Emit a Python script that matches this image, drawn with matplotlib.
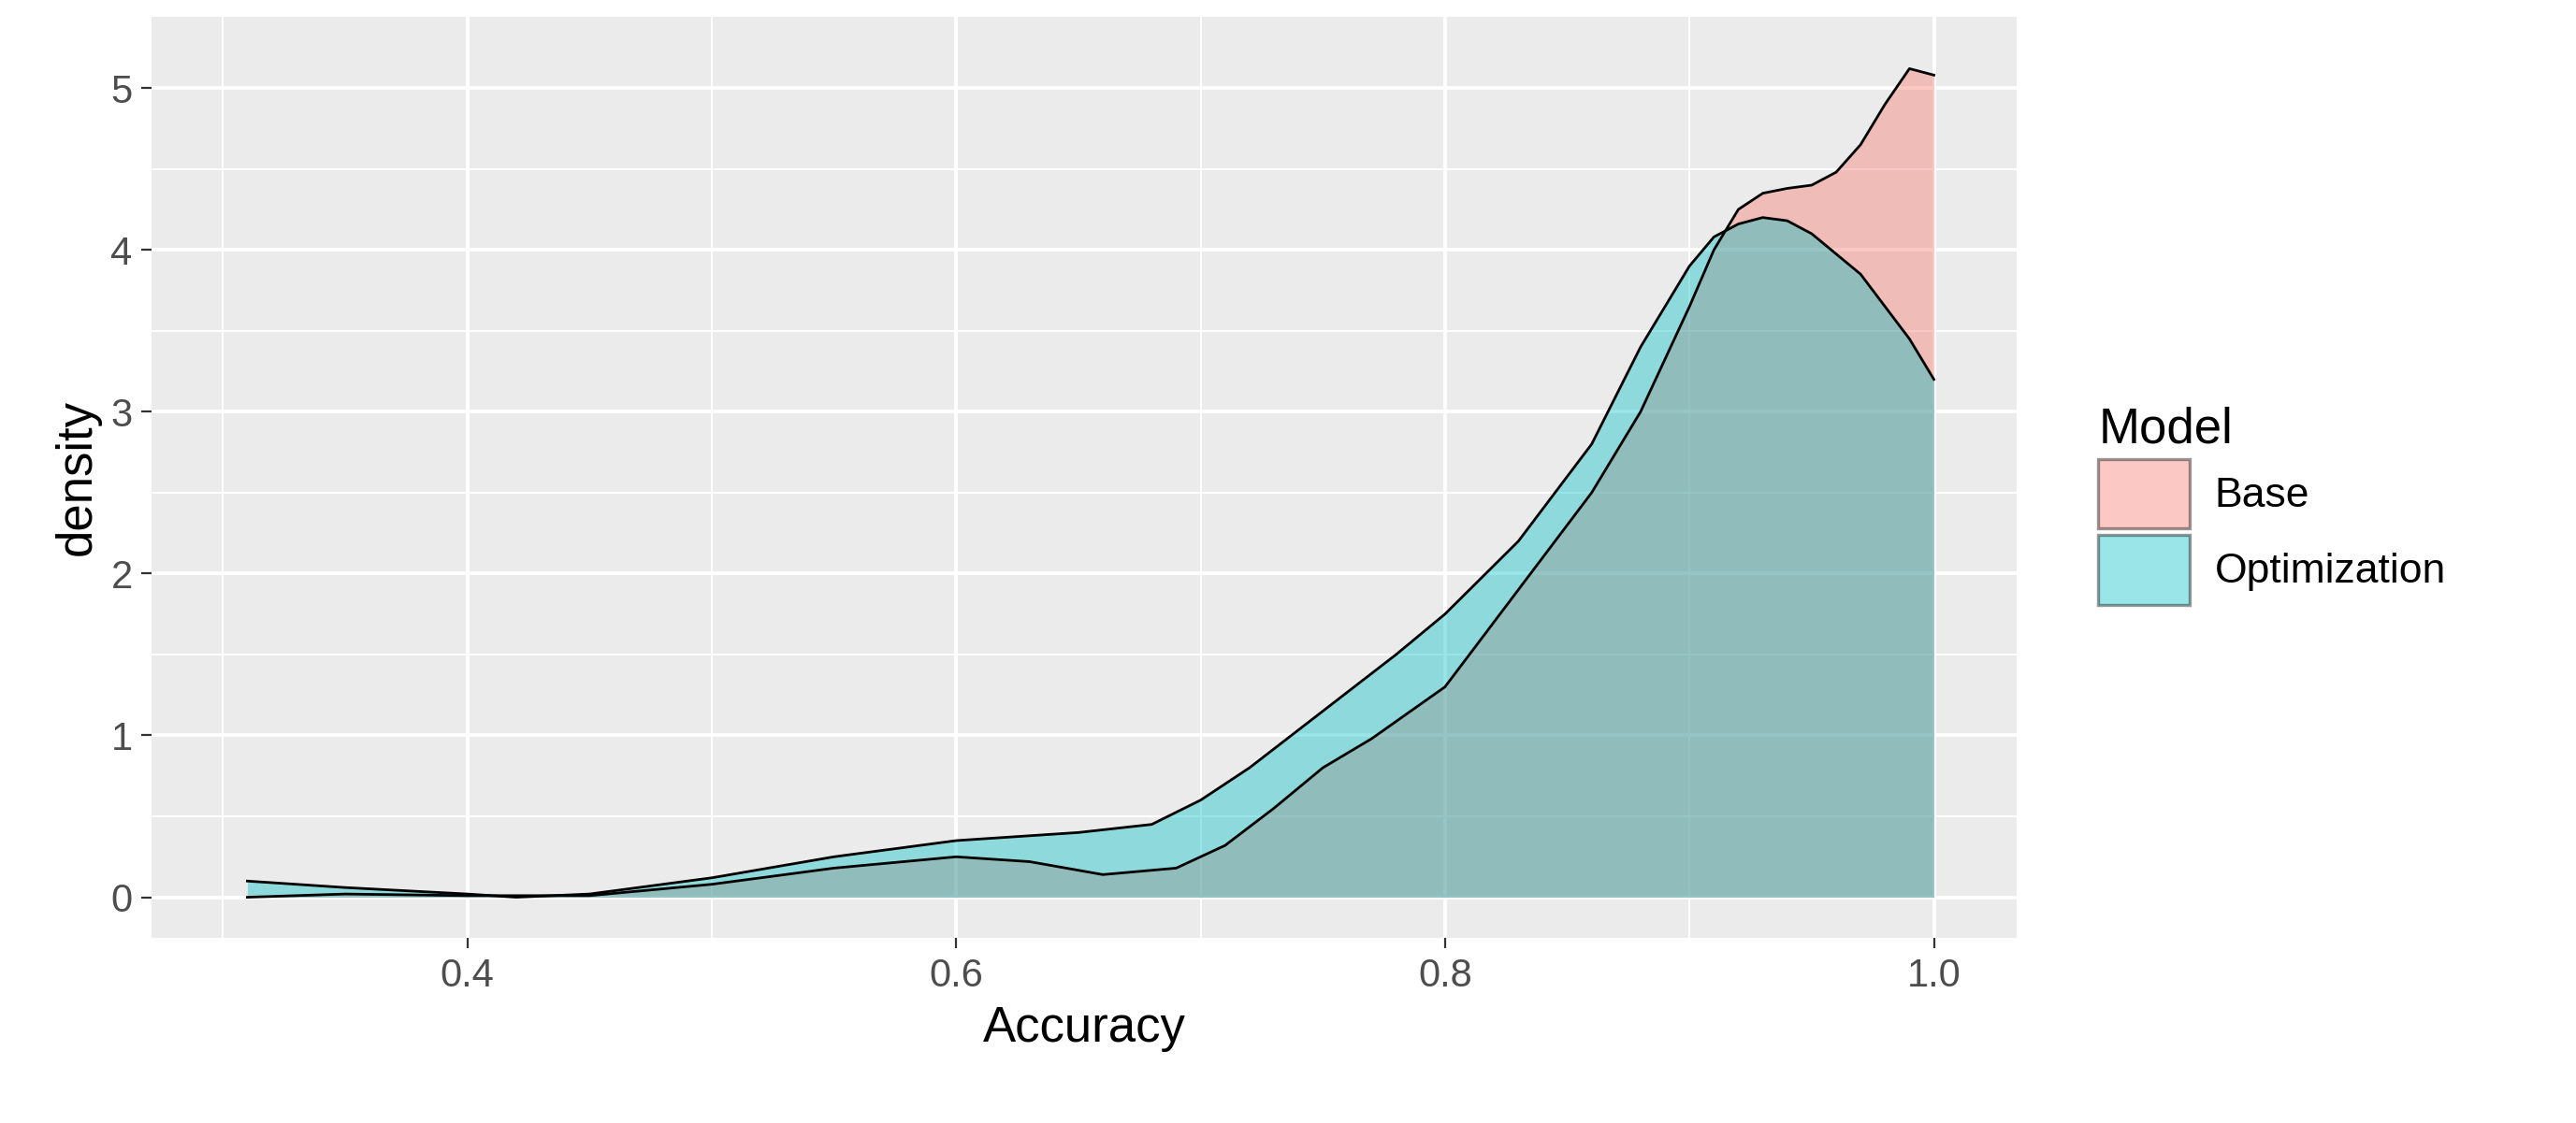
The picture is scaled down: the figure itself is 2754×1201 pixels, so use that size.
import matplotlib
matplotlib.use("Agg")
import matplotlib.pyplot as plt

plt.rcParams["font.family"] = ["Liberation Sans", "DejaVu Sans"]

# density curves
base_x = [0.31, 0.35, 0.40, 0.45, 0.50, 0.55, 0.60, 0.63, 0.66, 0.69, 0.71, 0.73, 0.75, 0.77,
          0.80, 0.83, 0.86, 0.88, 0.90, 0.91, 0.92, 0.93, 0.94, 0.95, 0.96, 0.97, 0.98, 0.99, 1.00]
base_y = [0.00, 0.02, 0.01, 0.01, 0.08, 0.18, 0.25, 0.22, 0.14, 0.18, 0.32, 0.55, 0.80, 0.98,
          1.30, 1.90, 2.50, 3.00, 3.65, 4.00, 4.25, 4.35, 4.38, 4.40, 4.48, 4.65, 4.90, 5.12, 5.08]
opt_x = [0.31, 0.35, 0.40, 0.42, 0.45, 0.50, 0.55, 0.60, 0.65, 0.68, 0.70, 0.72, 0.75, 0.78,
         0.80, 0.83, 0.86, 0.88, 0.90, 0.91, 0.92, 0.93, 0.94, 0.95, 0.97, 0.99, 1.00]
opt_y = [0.10, 0.06, 0.02, 0.00, 0.02, 0.12, 0.25, 0.35, 0.40, 0.45, 0.60, 0.80, 1.15, 1.50,
         1.75, 2.20, 2.80, 3.40, 3.90, 4.08, 4.16, 4.20, 4.18, 4.10, 3.85, 3.45, 3.20]
models = ["Base", "Optimization"]
colors = ["#F8766D", "#00BFC4"]

fig = plt.figure(figsize=(13.77, 6.005), dpi=200)
ax = fig.add_axes([0.059, 0.165, 0.724, 0.82])
ax.set_facecolor("#EBEBEB")
for s in ax.spines.values():
    s.set_visible(False)

for (x, y), name, c in zip([(base_x, base_y), (opt_x, opt_y)], models, colors):
    ax.fill_between(x, y, 0, color=c, alpha=0.4, linewidth=0, label=name)
    ax.plot(x, y, color="black", linewidth=1.0)

ax.set_xlim(0.271, 1.034)
ax.set_ylim(-0.25, 5.44)
ax.set_xticks([0.4, 0.6, 0.8, 1.0])
ax.set_xticklabels(["0.4", "0.6", "0.8", "1.0"])
ax.set_yticks(range(6))
ax.set_xticks([0.3, 0.5, 0.7, 0.9], minor=True)
ax.set_yticks([0.5, 1.5, 2.5, 3.5, 4.5], minor=True)
ax.grid(which="major", color="white", linewidth=1.4)
ax.grid(which="minor", color="white", linewidth=0.7)
ax.set_axisbelow(True)
ax.tick_params(which="major", length=4, color="#333333", labelsize=15, labelcolor="#4D4D4D")
ax.tick_params(which="minor", length=0)
ax.set_xlabel("Accuracy", fontsize=19)
ax.set_ylabel("density", fontsize=19)

handles = [plt.Rectangle((0, 0), 1, 1, facecolor=c, alpha=0.4, edgecolor="black") for c in colors]
leg = fig.legend(handles, models, title="Model", loc="center left", bbox_to_anchor=(0.8, 0.55),
                 frameon=False, fontsize=16, title_fontsize=19, handlelength=2.2, handleheight=2.2,
                 labelspacing=0.15, handletextpad=0.6, alignment="left")
for h in leg.legend_handles:
    h.set_edgecolor("black")
    h.set_linewidth(1.2)

fig.savefig("out.png", dpi=200)
